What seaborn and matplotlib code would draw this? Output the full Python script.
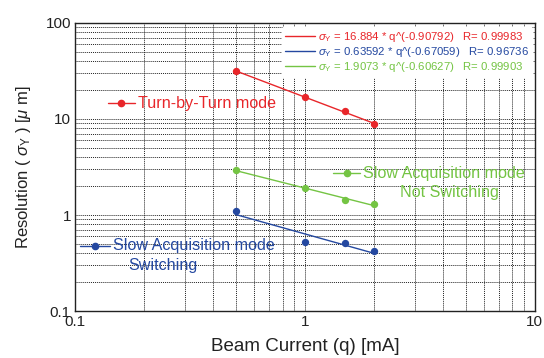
import numpy as np
import pandas as pd
import matplotlib
matplotlib.use("Agg")
import matplotlib.pyplot as plt
import seaborn as sns
from matplotlib.lines import Line2D
from matplotlib.ticker import LogLocator, FixedLocator, FixedFormatter, NullFormatter

sns.set_theme(style="white")
plt.rcParams['font.family'] = ['Liberation Sans', 'DejaVu Sans']
plt.rcParams['mathtext.fontset'] = 'custom'
plt.rcParams['mathtext.rm'] = 'Liberation Sans'
plt.rcParams['mathtext.it'] = 'Liberation Sans:italic'

# data
current = [0.5, 1.0, 1.5, 2.0]
tbt = [31.5, 16.9, 12.0, 8.8]
slow_sw = [1.10, 0.53, 0.51, 0.42]
slow_nsw = [2.94, 1.92, 1.43, 1.29]

fit_tbt = (16.884, -0.90792, 0.99983)
fit_sw = (0.63592, -0.67059, 0.96736)
fit_nsw = (1.9073, -0.60627, 0.99903)

RED = "#e8262a"
BLUE = "#2448a0"
GREEN = "#74c443"

series = [
    ("Turn-by-Turn mode", tbt, fit_tbt, RED),
    ("Slow Acquisition mode Switching", slow_sw, fit_sw, BLUE),
    ("Slow Acquisition mode Not Switching", slow_nsw, fit_nsw, GREEN),
]

fig = plt.figure(figsize=(5.44, 3.58), dpi=100)
ax = fig.add_axes([0.138, 0.131, 0.845, 0.805])

q = np.array(current)
for name, vals, (a, b, r), col in series:
    df = pd.DataFrame({"q": q, "y": vals})
    fdf = pd.DataFrame({"q": q, "y": a * q ** b})
    sns.lineplot(data=fdf, x="q", y="y", color=col, lw=1.0, ax=ax)
    sns.scatterplot(data=df, x="q", y="y", color=col, s=28, edgecolor=col,
                    linewidth=0, ax=ax, zorder=5)

ax.set_xscale("log")
ax.set_yscale("log")
ax.set_xlim(0.1, 10)
ax.set_ylim(0.1, 100)

ax.xaxis.set_major_locator(FixedLocator([0.1, 1, 10]))
ax.xaxis.set_major_formatter(FixedFormatter(["0.1", "1", "10"]))
ax.yaxis.set_major_locator(FixedLocator([0.1, 1, 10, 100]))
ax.yaxis.set_major_formatter(FixedFormatter(["0.1", "1", "10", "100"]))
ax.xaxis.set_minor_locator(LogLocator(base=10, subs=np.arange(2, 10)))
ax.yaxis.set_minor_locator(LogLocator(base=10, subs=np.arange(2, 10)))
ax.xaxis.set_minor_formatter(NullFormatter())
ax.yaxis.set_minor_formatter(NullFormatter())
ax.grid(True, which="both", color="#222222", linestyle=(0, (1.0, 1.0)), lw=0.7)
ax.tick_params(which="both", direction="in", length=0, labelsize=11,
               colors="#222222", pad=3)
for s in ax.spines.values():
    s.set_color("#222222")
    s.set_linewidth(1.0)

ax.set_xlabel("Beam Current (q) [mA]", fontsize=13.5, color="#222222", labelpad=6)
ax.set_ylabel(r"Resolution ( $\it{\sigma}_{\rm Y}$ ) [$\it{\mu}$ m]", fontsize=12,
              color="#222222", labelpad=9)

# top legend with fit equations
handles, labels, colors = [], [], []
for name, vals, (a, b, r), col in series:
    handles.append(Line2D([], [], color=col, lw=1.0))
    labels.append(rf"$\it{{\sigma}}_{{\rm Y}}$ = {a} * q^({b})   R= {r}")
    colors.append(col)
leg = ax.legend(handles, labels, loc="upper right", bbox_to_anchor=(1.0, 0.995),
                fontsize=8.2, frameon=True, framealpha=1, edgecolor="white",
                facecolor="white", handlelength=2.6, handletextpad=0.3,
                labelspacing=0.08, borderpad=0.3, borderaxespad=0.2)
for t, c in zip(leg.get_texts(), colors):
    t.set_color(c)

# in-plot labels
def label(x0, x1, y, col, lines, xs, dy=0.069):
    ax.add_line(Line2D([x0, x1], [y, y], transform=ax.transAxes, color=col, lw=1.0))
    ax.plot([(x0 + x1) / 2], [y], "o", color=col, ms=4.5, transform=ax.transAxes)
    for i, line in enumerate(lines):
        ax.text(xs[i], y - i * dy, line, transform=ax.transAxes, color=col,
                fontsize=11.6, va="center", ha="left")

label(0.0717, 0.130, 0.722, RED, ["Turn-by-Turn mode"], [0.137])
label(0.561, 0.620, 0.479, GREEN, ["Slow Acquisition mode", "Not Switching"],
      [0.626, 0.707])
label(0.011, 0.076, 0.227, BLUE, ["Slow Acquisition mode", "Switching"],
      [0.083, 0.115])

fig.savefig("out.png", dpi=100)
